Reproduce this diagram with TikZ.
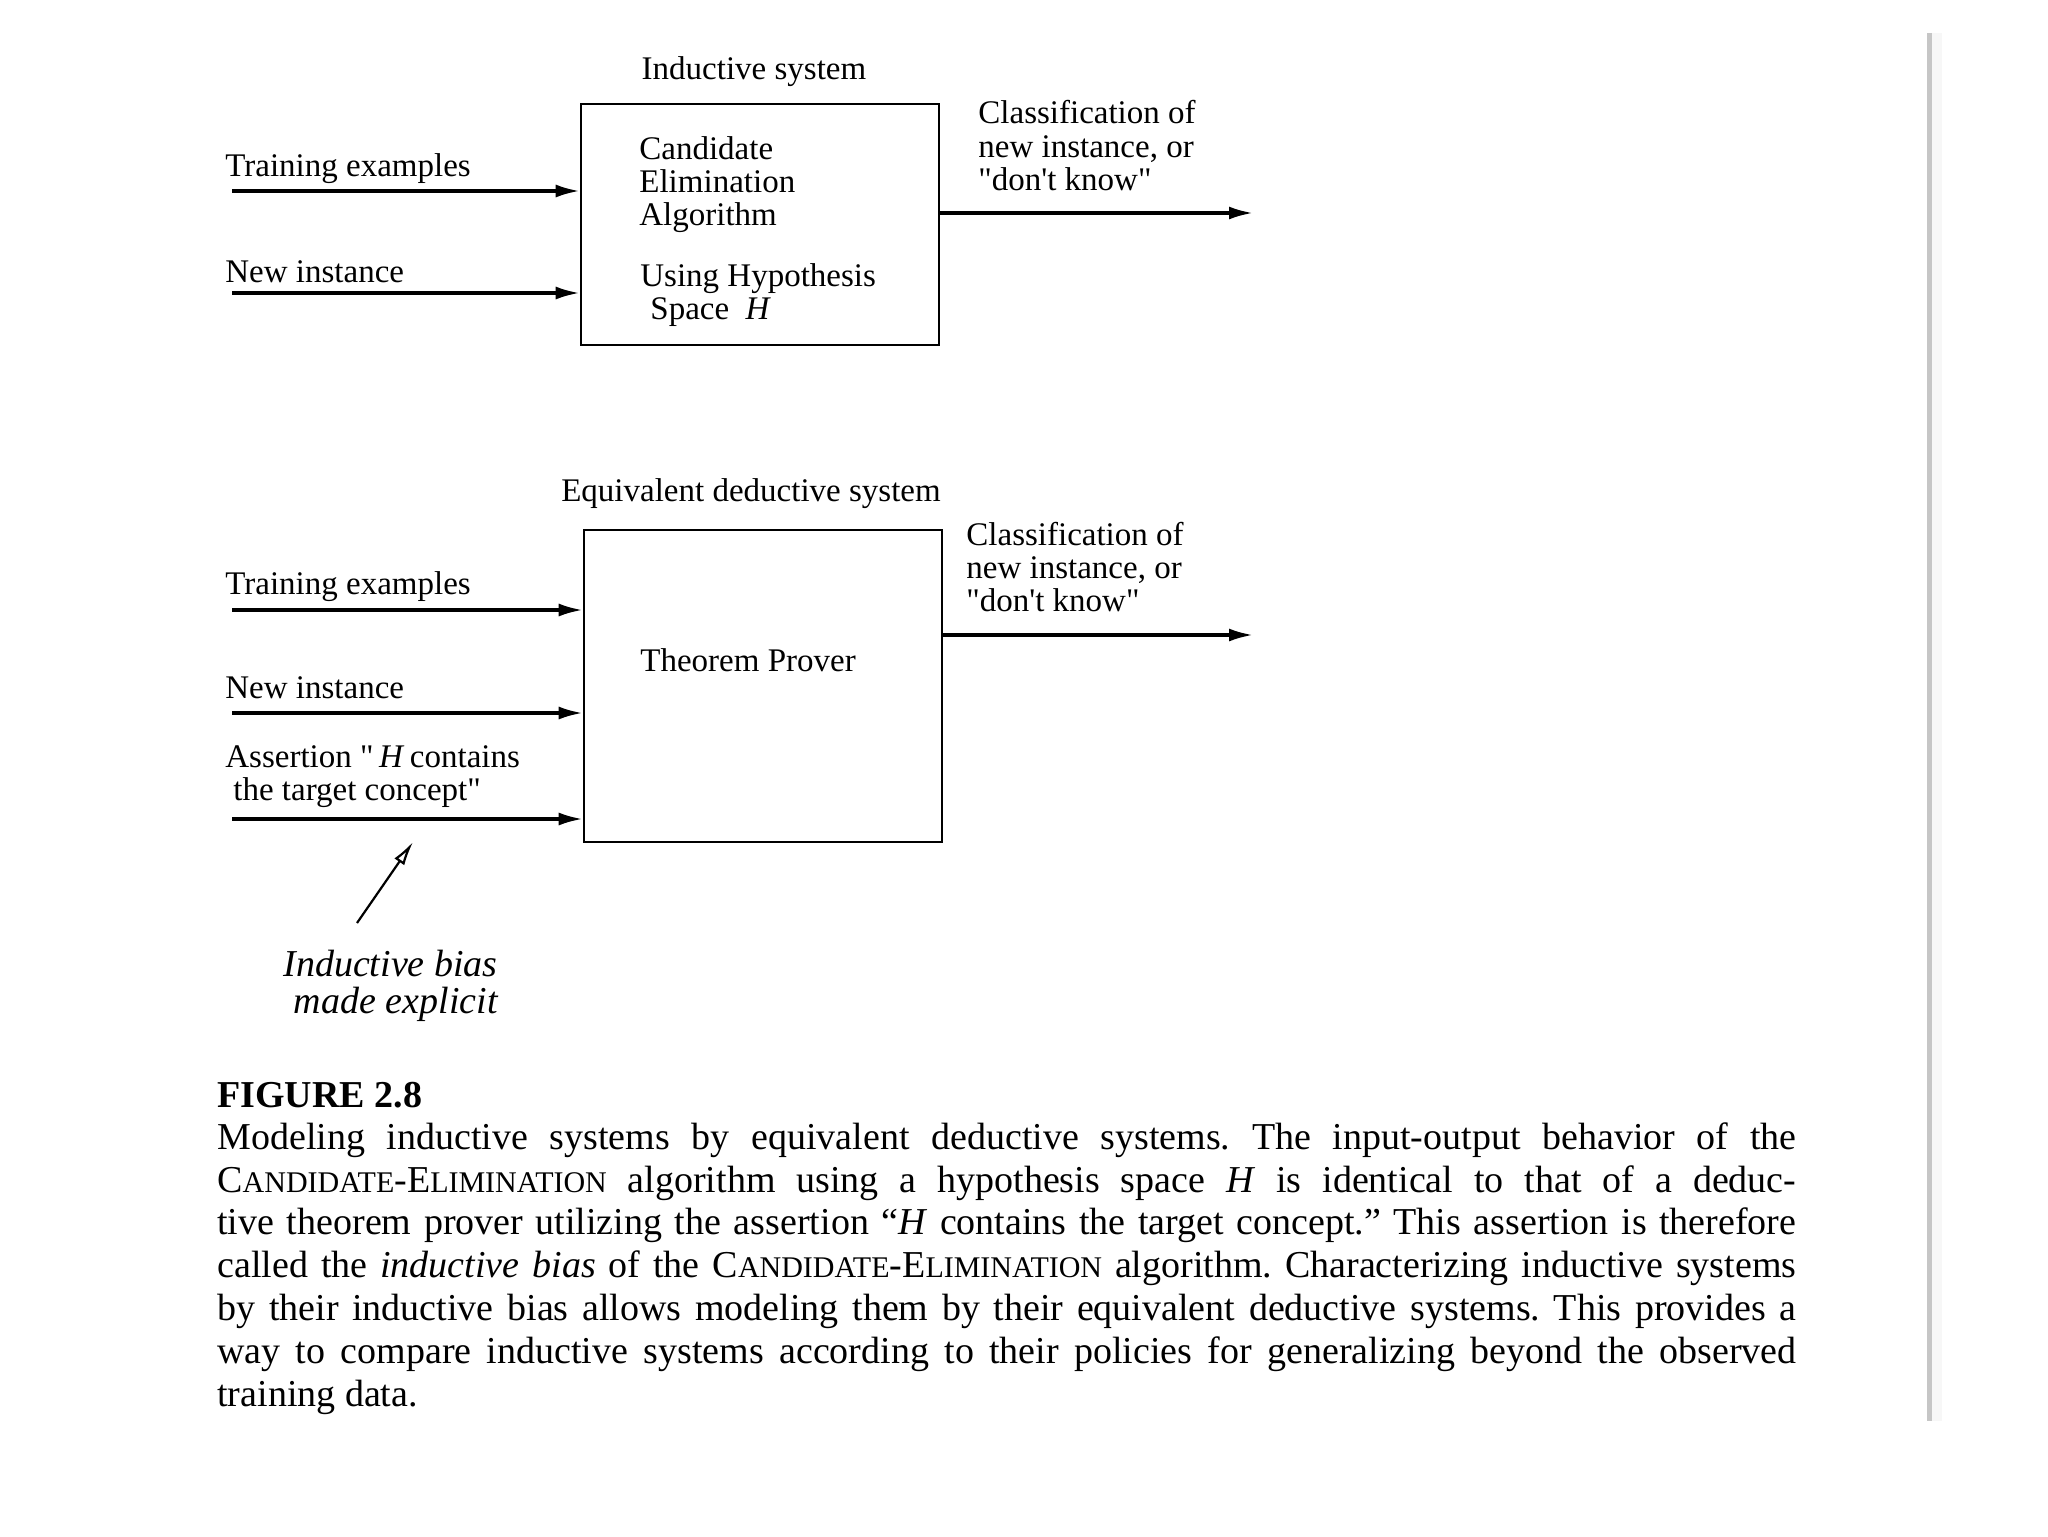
\documentclass[tikz,border=0pt]{standalone}
\usepackage{fontspec}
\setmainfont{Liberation Serif}
\newfontfamily\dfont{Liberation Serif}[Ligatures=TeXOff]
\usetikzlibrary{arrows.meta}
\newcommand\mysc[2]{#1{\fontsize{15}{21.4}\selectfont #2}}
\frenchspacing
\begin{document}
\begin{tikzpicture}[x=0.5pt,y=-0.5pt,
  txt/.style={font=\dfont\fontsize{16.5}{16.5}\selectfont, inner sep=0, anchor=base west, align=left},
  sysbox/.style={draw, line width=1.3pt, inner sep=0, minimum width=179pt},
  flow/.style={line width=1.6pt, -{Latex[length=12pt,width=6.5pt]}},
  biasarrow/.style={line width=1.1pt, -{Latex[open,length=12pt,width=6pt]}},
]
\useasboundingbox (0,0) rectangle (2048,1536);
\fill[white] (0,0) rectangle (2048,1536);

% ---------- top: inductive system ----------
\node[sysbox, minimum height=120.5pt] (box1) at (760,224.5) {};
\node[txt, anchor=base] (t1) at (754,80) {Inductive system};
\node[txt] (tr1) at (225,176) {Training examples};
\node[txt] (ni1) at (225,282) {New instance};
\node[txt] (cea) at (639,225) {Candidate\\Elimination\\Algorithm};
\node[txt] (uhs) at (640,319) {Using Hypothesis\\\hspace{5pt}Space\ \ \textit{H}};
\node[txt] (out1) at (978,190) {Classification of\\new instance, or\\"don't know"};
\coordinate (tr1s) at (232,191);
\coordinate (ni1s) at (232,293);
\coordinate (o1e) at (1253,213);
\draw[flow] (tr1s) -- (tr1s -| box1.west);
\draw[flow] (ni1s) -- (ni1s -| box1.west);
\draw[flow] (o1e -| box1.east) -- (o1e);

% ---------- bottom: equivalent deductive system ----------
\node[sysbox, minimum height=156pt] (box2) at (763,686) {};
\node[txt, anchor=base] (t2) at (751,501) {Equivalent deductive system};
\node[txt] (tr2) at (225,594) {Training examples};
\node[txt] (ni2) at (225,698) {New instance};
\node[txt] (as2) at (225,800) {Assertion "\,\textit{H}\,contains\\\hspace{4pt}the target concept"};
\node[txt] (tp) at (640,671) {Theorem Prover};
\node[txt] (out2) at (966,611) {Classification of\\new instance, or\\"don't know"};
\coordinate (tr2s) at (232,610);
\coordinate (ni2s) at (232,713);
\coordinate (as2s) at (232,819);
\coordinate (o2e) at (1253,635);
\draw[flow] (tr2s) -- (tr2s -| box2.west);
\draw[flow] (ni2s) -- (ni2s -| box2.west);
\draw[flow] (as2s) -- (as2s -| box2.west);
\draw[flow] (o2e -| box2.east) -- (o2e);

% inductive bias
\node[font=\dfont\itshape\fontsize{19}{18.3}\selectfont, inner sep=0, align=right, anchor=base east] (bias) at (498,1013) {Inductive bias\\made explicit};
\coordinate (biasfoot) at (357,923);
\coordinate (biastip) at (413,842);
\draw[biasarrow] (biasfoot) -- (biastip);

% ---------- caption ----------
\node[anchor=base west, inner sep=0, font=\bfseries\fontsize{19}{21.4}\selectfont] (fig) at (217,1107) {FIGURE 2.8};
\node[anchor=base west, inner sep=0, align=left, font=\fontsize{19}{21.4}\selectfont] (cap) at (217,1406) {%
\makebox[789.5pt][s]{Modeling inductive systems by equivalent deductive systems. The input-output behavior of the}\\
\makebox[789.5pt][s]{\mysc{C}{ANDIDATE}-\mysc{E}{LIMINATION} algorithm using a hypothesis space \textit{H} is identical to that of a deduc-}\\
\makebox[789.5pt][s]{tive theorem prover utilizing the assertion ``\textit{H} contains the target concept.'' This assertion is therefore}\\
\makebox[789.5pt][s]{called the \textit{inductive bias} of the \mysc{C}{ANDIDATE}-\mysc{E}{LIMINATION} algorithm. Characterizing inductive systems}\\
\makebox[789.5pt][s]{by their inductive bias allows modeling them by their equivalent deductive systems. This provides a}\\
\makebox[789.5pt][s]{way to compare inductive systems according to their policies for generalizing beyond the observed}\\
training data.};

% scan edge at right
\fill[gray!6] (1932,33) rectangle (1942,1421);
\draw[line width=2.5pt, gray!45] (1929,33) -- (1929,1421);
\end{tikzpicture}
\end{document}
